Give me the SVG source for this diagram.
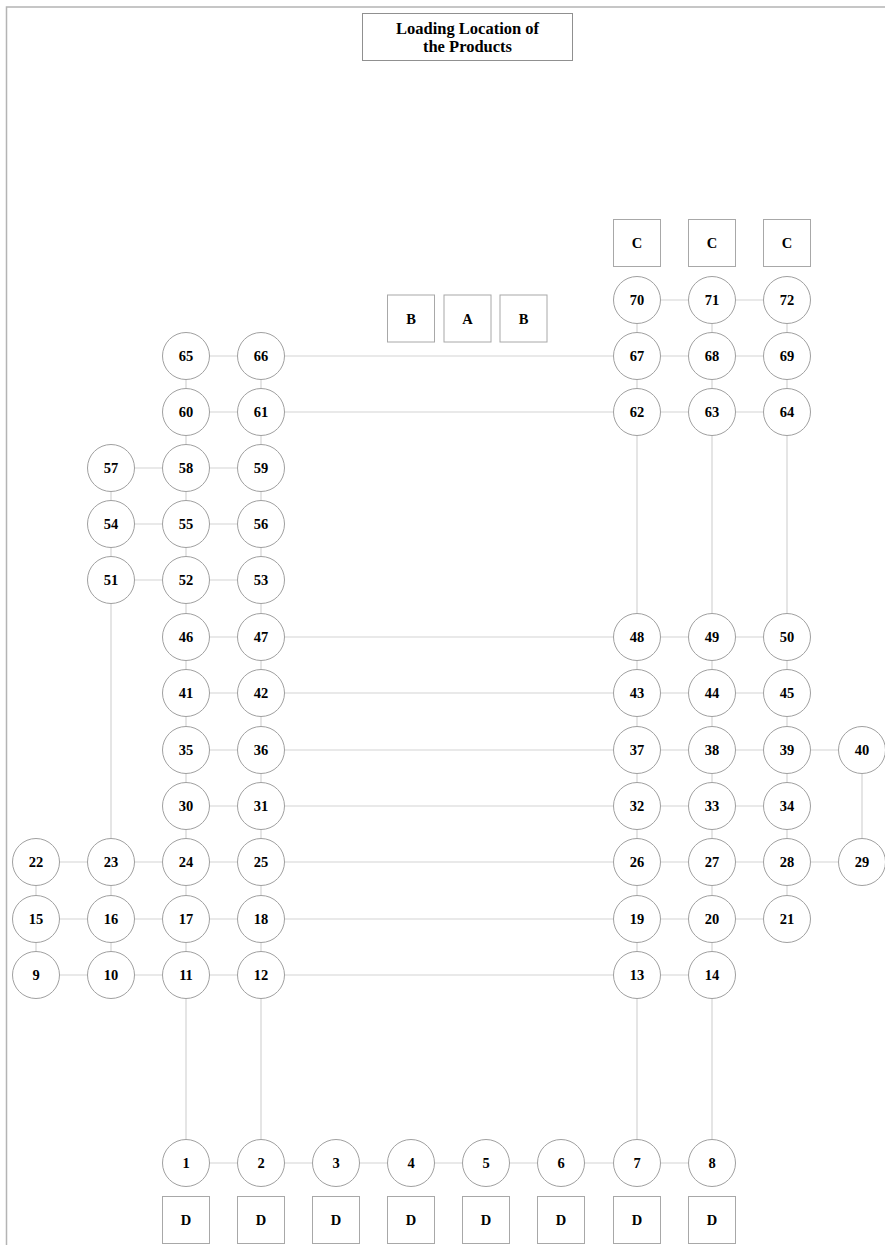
<svg xmlns="http://www.w3.org/2000/svg" width="885" height="1245" viewBox="0 0 885 1245">
<style>
.c{fill:#fff;stroke:#a0a0a0;stroke-width:1}
.b{fill:#fff;stroke:#a8a8a8;stroke-width:1}
.t{font-family:"Liberation Serif","Times New Roman",serif;font-weight:bold;font-size:14.5px;fill:#000;text-anchor:middle;dominant-baseline:central}
.e line{stroke:#d4d4d4;stroke-width:1.2}
</style>
<rect width="885" height="1245" fill="#fff"/>
<g id="frame" fill="none" stroke="#b4b4b4" stroke-width="1.5">
<path d="M6.5 1245 V7 H885"/>
</g>
<g id="title">
<rect x="362.5" y="13.5" width="210" height="47" fill="#fff" stroke="#909090"/>
<text x="467.5" y="28" class="t" style="font-size:16.5px">Loading Location of</text>
<text x="467.5" y="46.5" class="t" style="font-size:16.5px">the Products</text>
</g>
<g id="connectors" class="e">
<line x1="637" y1="300" x2="787" y2="300"/>
<line x1="186" y1="356" x2="787" y2="356"/>
<line x1="186" y1="412" x2="787" y2="412"/>
<line x1="111" y1="468" x2="261" y2="468"/>
<line x1="111" y1="524" x2="261" y2="524"/>
<line x1="111" y1="580" x2="261" y2="580"/>
<line x1="186" y1="637" x2="787" y2="637"/>
<line x1="186" y1="693" x2="787" y2="693"/>
<line x1="186" y1="750" x2="862" y2="750"/>
<line x1="186" y1="806" x2="787" y2="806"/>
<line x1="36" y1="862" x2="862" y2="862"/>
<line x1="36" y1="919" x2="787" y2="919"/>
<line x1="36" y1="975" x2="712" y2="975"/>
<line x1="186" y1="1163" x2="712" y2="1163"/>
<line x1="36" y1="862" x2="36" y2="975"/>
<line x1="111" y1="468" x2="111" y2="975"/>
<line x1="186" y1="356" x2="186" y2="1163"/>
<line x1="261" y1="356" x2="261" y2="1163"/>
<line x1="637" y1="300" x2="637" y2="1163"/>
<line x1="712" y1="300" x2="712" y2="1163"/>
<line x1="787" y1="300" x2="787" y2="919"/>
<line x1="862" y1="750" x2="862" y2="862"/>
</g>
<g id="n70"><circle class="c" cx="637" cy="300" r="23.5"/><text class="t" x="637" y="300">70</text></g>
<g id="n71"><circle class="c" cx="712" cy="300" r="23.5"/><text class="t" x="712" y="300">71</text></g>
<g id="n72"><circle class="c" cx="787" cy="300" r="23.5"/><text class="t" x="787" y="300">72</text></g>
<g id="n65"><circle class="c" cx="186" cy="356" r="23.5"/><text class="t" x="186" y="356">65</text></g>
<g id="n66"><circle class="c" cx="261" cy="356" r="23.5"/><text class="t" x="261" y="356">66</text></g>
<g id="n67"><circle class="c" cx="637" cy="356" r="23.5"/><text class="t" x="637" y="356">67</text></g>
<g id="n68"><circle class="c" cx="712" cy="356" r="23.5"/><text class="t" x="712" y="356">68</text></g>
<g id="n69"><circle class="c" cx="787" cy="356" r="23.5"/><text class="t" x="787" y="356">69</text></g>
<g id="n60"><circle class="c" cx="186" cy="412" r="23.5"/><text class="t" x="186" y="412">60</text></g>
<g id="n61"><circle class="c" cx="261" cy="412" r="23.5"/><text class="t" x="261" y="412">61</text></g>
<g id="n62"><circle class="c" cx="637" cy="412" r="23.5"/><text class="t" x="637" y="412">62</text></g>
<g id="n63"><circle class="c" cx="712" cy="412" r="23.5"/><text class="t" x="712" y="412">63</text></g>
<g id="n64"><circle class="c" cx="787" cy="412" r="23.5"/><text class="t" x="787" y="412">64</text></g>
<g id="n57"><circle class="c" cx="111" cy="468" r="23.5"/><text class="t" x="111" y="468">57</text></g>
<g id="n58"><circle class="c" cx="186" cy="468" r="23.5"/><text class="t" x="186" y="468">58</text></g>
<g id="n59"><circle class="c" cx="261" cy="468" r="23.5"/><text class="t" x="261" y="468">59</text></g>
<g id="n54"><circle class="c" cx="111" cy="524" r="23.5"/><text class="t" x="111" y="524">54</text></g>
<g id="n55"><circle class="c" cx="186" cy="524" r="23.5"/><text class="t" x="186" y="524">55</text></g>
<g id="n56"><circle class="c" cx="261" cy="524" r="23.5"/><text class="t" x="261" y="524">56</text></g>
<g id="n51"><circle class="c" cx="111" cy="580" r="23.5"/><text class="t" x="111" y="580">51</text></g>
<g id="n52"><circle class="c" cx="186" cy="580" r="23.5"/><text class="t" x="186" y="580">52</text></g>
<g id="n53"><circle class="c" cx="261" cy="580" r="23.5"/><text class="t" x="261" y="580">53</text></g>
<g id="n46"><circle class="c" cx="186" cy="637" r="23.5"/><text class="t" x="186" y="637">46</text></g>
<g id="n47"><circle class="c" cx="261" cy="637" r="23.5"/><text class="t" x="261" y="637">47</text></g>
<g id="n48"><circle class="c" cx="637" cy="637" r="23.5"/><text class="t" x="637" y="637">48</text></g>
<g id="n49"><circle class="c" cx="712" cy="637" r="23.5"/><text class="t" x="712" y="637">49</text></g>
<g id="n50"><circle class="c" cx="787" cy="637" r="23.5"/><text class="t" x="787" y="637">50</text></g>
<g id="n41"><circle class="c" cx="186" cy="693" r="23.5"/><text class="t" x="186" y="693">41</text></g>
<g id="n42"><circle class="c" cx="261" cy="693" r="23.5"/><text class="t" x="261" y="693">42</text></g>
<g id="n43"><circle class="c" cx="637" cy="693" r="23.5"/><text class="t" x="637" y="693">43</text></g>
<g id="n44"><circle class="c" cx="712" cy="693" r="23.5"/><text class="t" x="712" y="693">44</text></g>
<g id="n45"><circle class="c" cx="787" cy="693" r="23.5"/><text class="t" x="787" y="693">45</text></g>
<g id="n35"><circle class="c" cx="186" cy="750" r="23.5"/><text class="t" x="186" y="750">35</text></g>
<g id="n36"><circle class="c" cx="261" cy="750" r="23.5"/><text class="t" x="261" y="750">36</text></g>
<g id="n37"><circle class="c" cx="637" cy="750" r="23.5"/><text class="t" x="637" y="750">37</text></g>
<g id="n38"><circle class="c" cx="712" cy="750" r="23.5"/><text class="t" x="712" y="750">38</text></g>
<g id="n39"><circle class="c" cx="787" cy="750" r="23.5"/><text class="t" x="787" y="750">39</text></g>
<g id="n40"><circle class="c" cx="862" cy="750" r="23.5"/><text class="t" x="862" y="750">40</text></g>
<g id="n30"><circle class="c" cx="186" cy="806" r="23.5"/><text class="t" x="186" y="806">30</text></g>
<g id="n31"><circle class="c" cx="261" cy="806" r="23.5"/><text class="t" x="261" y="806">31</text></g>
<g id="n32"><circle class="c" cx="637" cy="806" r="23.5"/><text class="t" x="637" y="806">32</text></g>
<g id="n33"><circle class="c" cx="712" cy="806" r="23.5"/><text class="t" x="712" y="806">33</text></g>
<g id="n34"><circle class="c" cx="787" cy="806" r="23.5"/><text class="t" x="787" y="806">34</text></g>
<g id="n22"><circle class="c" cx="36" cy="862" r="23.5"/><text class="t" x="36" y="862">22</text></g>
<g id="n23"><circle class="c" cx="111" cy="862" r="23.5"/><text class="t" x="111" y="862">23</text></g>
<g id="n24"><circle class="c" cx="186" cy="862" r="23.5"/><text class="t" x="186" y="862">24</text></g>
<g id="n25"><circle class="c" cx="261" cy="862" r="23.5"/><text class="t" x="261" y="862">25</text></g>
<g id="n26"><circle class="c" cx="637" cy="862" r="23.5"/><text class="t" x="637" y="862">26</text></g>
<g id="n27"><circle class="c" cx="712" cy="862" r="23.5"/><text class="t" x="712" y="862">27</text></g>
<g id="n28"><circle class="c" cx="787" cy="862" r="23.5"/><text class="t" x="787" y="862">28</text></g>
<g id="n29"><circle class="c" cx="862" cy="862" r="23.5"/><text class="t" x="862" y="862">29</text></g>
<g id="n15"><circle class="c" cx="36" cy="919" r="23.5"/><text class="t" x="36" y="919">15</text></g>
<g id="n16"><circle class="c" cx="111" cy="919" r="23.5"/><text class="t" x="111" y="919">16</text></g>
<g id="n17"><circle class="c" cx="186" cy="919" r="23.5"/><text class="t" x="186" y="919">17</text></g>
<g id="n18"><circle class="c" cx="261" cy="919" r="23.5"/><text class="t" x="261" y="919">18</text></g>
<g id="n19"><circle class="c" cx="637" cy="919" r="23.5"/><text class="t" x="637" y="919">19</text></g>
<g id="n20"><circle class="c" cx="712" cy="919" r="23.5"/><text class="t" x="712" y="919">20</text></g>
<g id="n21"><circle class="c" cx="787" cy="919" r="23.5"/><text class="t" x="787" y="919">21</text></g>
<g id="n9"><circle class="c" cx="36" cy="975" r="23.5"/><text class="t" x="36" y="975">9</text></g>
<g id="n10"><circle class="c" cx="111" cy="975" r="23.5"/><text class="t" x="111" y="975">10</text></g>
<g id="n11"><circle class="c" cx="186" cy="975" r="23.5"/><text class="t" x="186" y="975">11</text></g>
<g id="n12"><circle class="c" cx="261" cy="975" r="23.5"/><text class="t" x="261" y="975">12</text></g>
<g id="n13"><circle class="c" cx="637" cy="975" r="23.5"/><text class="t" x="637" y="975">13</text></g>
<g id="n14"><circle class="c" cx="712" cy="975" r="23.5"/><text class="t" x="712" y="975">14</text></g>
<g id="n1"><circle class="c" cx="186" cy="1163" r="23.5"/><text class="t" x="186" y="1163">1</text></g>
<g id="n2"><circle class="c" cx="261" cy="1163" r="23.5"/><text class="t" x="261" y="1163">2</text></g>
<g id="n3"><circle class="c" cx="336" cy="1163" r="23.5"/><text class="t" x="336" y="1163">3</text></g>
<g id="n4"><circle class="c" cx="411" cy="1163" r="23.5"/><text class="t" x="411" y="1163">4</text></g>
<g id="n5"><circle class="c" cx="486" cy="1163" r="23.5"/><text class="t" x="486" y="1163">5</text></g>
<g id="n6"><circle class="c" cx="561" cy="1163" r="23.5"/><text class="t" x="561" y="1163">6</text></g>
<g id="n7"><circle class="c" cx="637" cy="1163" r="23.5"/><text class="t" x="637" y="1163">7</text></g>
<g id="n8"><circle class="c" cx="712" cy="1163" r="23.5"/><text class="t" x="712" y="1163">8</text></g>
<g id="boxC1"><rect class="b" x="613.5" y="219.5" width="47" height="47"/><text class="t" x="637" y="243">C</text></g>
<g id="boxC2"><rect class="b" x="688.5" y="219.5" width="47" height="47"/><text class="t" x="712" y="243">C</text></g>
<g id="boxC3"><rect class="b" x="763.5" y="219.5" width="47" height="47"/><text class="t" x="787" y="243">C</text></g>
<g id="boxB1"><rect class="b" x="387.5" y="295" width="47" height="47"/><text class="t" x="411" y="318.5">B</text></g>
<g id="boxA"><rect class="b" x="444" y="295" width="47" height="47"/><text class="t" x="467.5" y="318.5">A</text></g>
<g id="boxB2"><rect class="b" x="500" y="295" width="47" height="47"/><text class="t" x="523.5" y="318.5">B</text></g>
<g id="boxD1"><rect class="b" x="162.5" y="1196.5" width="47" height="47"/><text class="t" x="186" y="1220">D</text></g>
<g id="boxD2"><rect class="b" x="237.5" y="1196.5" width="47" height="47"/><text class="t" x="261" y="1220">D</text></g>
<g id="boxD3"><rect class="b" x="312.5" y="1196.5" width="47" height="47"/><text class="t" x="336" y="1220">D</text></g>
<g id="boxD4"><rect class="b" x="387.5" y="1196.5" width="47" height="47"/><text class="t" x="411" y="1220">D</text></g>
<g id="boxD5"><rect class="b" x="462.5" y="1196.5" width="47" height="47"/><text class="t" x="486" y="1220">D</text></g>
<g id="boxD6"><rect class="b" x="537.5" y="1196.5" width="47" height="47"/><text class="t" x="561" y="1220">D</text></g>
<g id="boxD7"><rect class="b" x="613.5" y="1196.5" width="47" height="47"/><text class="t" x="637" y="1220">D</text></g>
<g id="boxD8"><rect class="b" x="688.5" y="1196.5" width="47" height="47"/><text class="t" x="712" y="1220">D</text></g>
</svg>
